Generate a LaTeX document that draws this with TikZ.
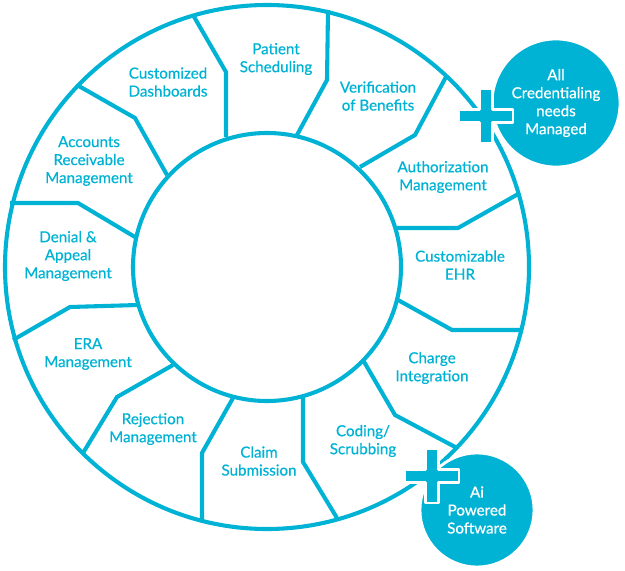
\documentclass[tikz,border=0pt]{standalone}
\usepackage{fontspec}
\setmainfont{Lato}[FakeBold=0.6]
\definecolor{ringblue}{RGB}{0,178,212}
\tikzset{
  plussign/.pic={
    \filldraw[fill=ringblue, draw=white, line width=1.6pt, line join=round]
      (-6.5,-27) -- (6.5,-27) -- (6.5,-6.5) -- (27,-6.5) -- (27,6.5) -- (6.5,6.5)
      -- (6.5,27) -- (-6.5,27) -- (-6.5,6.5) -- (-27,6.5) -- (-27,-6.5) -- (-6.5,-6.5) -- cycle;
  }
}
\begin{document}
\begin{tikzpicture}[x=0.025cm, y=-0.025cm,
    ring/.style={draw=ringblue, line width=2.9pt, line join=round},
    seglabel/.style={text=ringblue, align=center, font=\fontsize{10.8}{12.8}\selectfont},
    badge/.style={circle, fill=ringblue, draw=white, line width=2pt, text=white,
      align=center, inner sep=0pt, font=\fontsize{10.8}{12.8}\selectfont}]
    \useasboundingbox (0,0) rectangle (625,571);

    % Outer and inner rings
    \coordinate (C) at (267,267);
    \draw[ring] (C) circle[radius=262];
    \draw[ring] (C) circle[radius=134];

    % Dividers: outer point, bend, inner point
    \foreach \xa/\ya/\xb/\yb/\xc/\yc in {193/15/226/72/226/137, 328/10/327/80/297/135,
        447/75/415/135/360/167, 520/193/458/228/397/228, 522/330/452/330/398/300,
        457/448/395/415/363/360, 337/518/303/462/303/395, 202/522/202/453/233/398,
        83/453/117/397/173/365, 13/340/70/307/138/305, 10/203/78/203/135/237,
        77/85/135/118/167/175}
      \draw[ring] (\xa,\ya) -- (\xb,\yb) -- (\xc,\yc);

    % Segment labels
    \node[seglabel] (sched) at (276,59) {Patient\\Scheduling};
    \node[seglabel] (verif) at (378,96) {Verification\\of Benefits};
    \node[seglabel] (auth) at (443,177) {Authorization\\Management};
    \node[seglabel] (ehr) at (460,265) {Customizable\\EHR};
    \node[seglabel] (charge) at (432,368) {Charge\\Integration};
    \node[seglabel] (coding) at (363,441) {Coding/\\Scrubbing};
    \node[seglabel] (claim) at (259,461) {Claim\\Submission};
    \node[seglabel] (reject) at (153,429) {Rejection\\Management};
    \node[seglabel] (era) at (88,354) {ERA\\Management};
    \node[seglabel] (denial) at (68,256) {Denial \&\\Appeal\\Management};
    \node[seglabel] (accounts) at (89,161) {Accounts\\Receivable\\Management};
    \node[seglabel] (dash) at (168,82) {Customized\\Dashboards};

    % Badges
    \node[badge, minimum size=3.2cm] (cred) at (556,103) {All\\Credentialing\\needs\\Managed};
    \node[badge, minimum size=2.85cm] (ai) at (477,510) {Ai\\Powered\\Software};
    \pic at (486,116) {plussign};
    \pic at (432,476) {plussign};
\end{tikzpicture}
\end{document}
